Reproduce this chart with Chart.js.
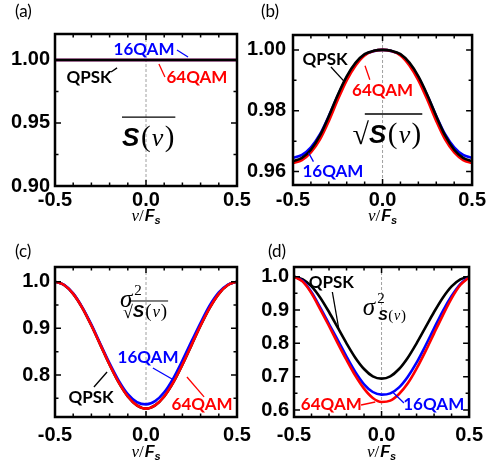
<!DOCTYPE html>
<html>
<head>
<meta charset="utf-8">
<script src="https://cdn.jsdelivr.net/npm/chart.js@4.4.1/dist/chart.umd.min.js"></script>
<style>
    body { margin: 0; background: #fff; }
    #wrap { position: relative; width: 489px; height: 475px; }
    #wrap canvas { position: absolute; left: 0; top: 0; }
</style>
</head>
<body>
<div id="wrap">
    <canvas id="panelA" width="489" height="475"></canvas>
    <canvas id="panelB" width="489" height="475"></canvas>
    <canvas id="panelC" width="489" height="475"></canvas>
    <canvas id="panelD" width="489" height="475"></canvas>
</div>
<script>
// normalized frequency nu/Fs
const xs = [-0.5, -0.45, -0.4, -0.35, -0.3, -0.25, -0.2, -0.15, -0.1, -0.05, 0,
            0.05, 0.1, 0.15, 0.2, 0.25, 0.3, 0.35, 0.4, 0.45, 0.5];
const xMajor = [-0.5, 0, 0.5];
const xMinor = [-0.4, -0.3, -0.2, -0.1, 0.1, 0.2, 0.3, 0.4];

// (a) mean of S(nu)
const qpskA  = [1.000, 1.000, 1.000, 1.000, 1.000, 1.000, 1.000, 1.000, 1.000, 1.000, 1.000,
                1.000, 1.000, 1.000, 1.000, 1.000, 1.000, 1.000, 1.000, 1.000, 1.000];
const qam16A = [1.000, 1.000, 1.000, 1.000, 1.000, 1.000, 1.000, 1.000, 1.000, 1.000, 1.000,
                1.000, 1.000, 1.000, 1.000, 1.000, 1.000, 1.000, 1.000, 1.000, 1.000];
const qam64A = [1.000, 1.000, 1.000, 1.000, 1.000, 1.000, 1.000, 1.000, 1.000, 1.000, 1.000,
                1.000, 1.000, 1.000, 1.000, 1.000, 1.000, 1.000, 1.000, 1.000, 1.000];
const yMajorA = [0.90, 0.95, 1.00];
const yMinorA = [0.925, 0.975];

// (b) mean of sqrt(S(nu))
const qpskB  = [0.9634, 0.9645, 0.9672, 0.9718, 0.9782, 0.9852, 0.9913, 0.9958, 0.9986, 0.9997, 1.0000,
                0.9997, 0.9986, 0.9958, 0.9913, 0.9852, 0.9782, 0.9718, 0.9672, 0.9645, 0.9634];
const qam16B = [0.9645, 0.9655, 0.9680, 0.9722, 0.9783, 0.9850, 0.9910, 0.9955, 0.9984, 0.9996, 1.0000,
                0.9996, 0.9984, 0.9955, 0.9910, 0.9850, 0.9783, 0.9722, 0.9680, 0.9655, 0.9645];
const qam64B = [0.9628, 0.9638, 0.9663, 0.9705, 0.9766, 0.9836, 0.9900, 0.9949, 0.9982, 0.9996, 1.0000,
                0.9996, 0.9982, 0.9949, 0.9900, 0.9836, 0.9766, 0.9705, 0.9663, 0.9638, 0.9628];
const yMajorB = [0.96, 0.98, 1.00];
const yMinorB = [0.97, 0.99];

// (c) variance of sqrt(S(nu))
const qpskC  = [1.000, 0.993, 0.974, 0.944, 0.906, 0.864, 0.822, 0.784, 0.754, 0.735, 0.728,
                0.735, 0.754, 0.784, 0.822, 0.864, 0.906, 0.944, 0.974, 0.993, 1.000];
const qam16C = [1.000, 0.993, 0.975, 0.945, 0.908, 0.866, 0.825, 0.788, 0.759, 0.742, 0.737,
                0.744, 0.763, 0.793, 0.831, 0.872, 0.912, 0.949, 0.977, 0.994, 1.000];
const qam64C = [1.000, 0.993, 0.974, 0.944, 0.906, 0.864, 0.822, 0.784, 0.754, 0.735, 0.728,
                0.735, 0.754, 0.784, 0.822, 0.864, 0.906, 0.944, 0.974, 0.993, 1.000];
const yMajorC = [0.8, 0.9, 1.0];
const yMinorC = [0.75, 0.85, 0.95];

// (d) variance of S(nu)
const qpskD  = [1.000, 0.992, 0.971, 0.937, 0.894, 0.847, 0.800, 0.757, 0.723, 0.701, 0.694,
                0.701, 0.723, 0.757, 0.800, 0.847, 0.894, 0.937, 0.971, 0.992, 1.000];
const qam16D = [1.000, 0.987, 0.953, 0.907, 0.858, 0.810, 0.760, 0.714, 0.677, 0.654, 0.646,
                0.650, 0.668, 0.700, 0.742, 0.792, 0.845, 0.897, 0.942, 0.978, 1.000];
const qam64D = [1.000, 0.985, 0.950, 0.902, 0.852, 0.800, 0.750, 0.703, 0.664, 0.636, 0.624,
                0.628, 0.648, 0.680, 0.724, 0.775, 0.830, 0.884, 0.935, 0.975, 0.998];
const yMajorD = [0.6, 0.7, 0.8, 0.9, 1.0];
const yMinorD = [0.65, 0.75, 0.85, 0.95];

const BLACK = "#000000";
const BLUE = "#0000ff";
const RED = "#ff0000";
const W = 489, H = 475;

const SANS = '"Liberation Sans", Arial, sans-serif';
const SERIF = '"Liberation Serif", "DejaVu Serif", serif';

// draws runs of text left to right, returns end x
function drawRuns(ctx, x, base, runs) {
    runs.forEach(r => {
        ctx.font = r.font;
        ctx.fillText(r.t, x + (r.dx || 0), base + (r.dy || 0));
        x += ctx.measureText(r.t).width + (r.dx || 0) + (r.gap || 0);
    });
    return x;
}

function sOfNu(size) {
    return [
        { t: "S", font: `bold italic ${size}px ${SANS}`, gap: size * 0.06 },
        { t: "(", font: `${Math.round(size * 1.1)}px ${SERIF}`, gap: size * 0.05 },
        { t: "ν", font: `italic ${size}px ${SERIF}`, gap: size * 0.05 },
        { t: ")", font: `${Math.round(size * 1.1)}px ${SERIF}` }
    ];
}

function drawFormula(ctx, kind, x0, base) {
    ctx.save();
    ctx.fillStyle = BLACK;
    ctx.strokeStyle = BLACK;
    ctx.textAlign = "left";
    ctx.textBaseline = "alphabetic";
    ctx.lineWidth = 1.3;
    if (kind === "mean" || kind === "meanSqrt") {
        let x = x0;
        let lineStart = x0;
        if (kind === "meanSqrt") {
            ctx.font = `30px ${SERIF}`;
            ctx.fillText("√", x, base + 1);
            lineStart = x + ctx.measureText("√").width * 0.75;
            x += ctx.measureText("√").width;
        }
        const end = drawRuns(ctx, x, base, sOfNu(26));
        ctx.beginPath();
        ctx.moveTo(kind === "meanSqrt" ? lineStart : x0, base - 29);
        ctx.lineTo(end + 1, base - 29);
        ctx.stroke();
    } else {
        ctx.font = `italic 25px ${SERIF}`;
        ctx.fillText("σ", x0, base);
        const sw = ctx.measureText("σ").width;
        ctx.font = `15px ${SERIF}`;
        ctx.fillText("2", x0 + sw + 2, base - 12);
        if (kind === "varSqrt") {
            let x = x0 + 3;
            const sb = base + 10;
            ctx.font = `18px ${SERIF}`;
            ctx.fillText("√", x, sb + 1);
            const rw = ctx.measureText("√").width;
            const ls = x + rw * 0.75;
            x += rw;
            const end = drawRuns(ctx, x, sb, sOfNu(17));
            ctx.lineWidth = 1;
            ctx.beginPath();
            ctx.moveTo(ls, sb - 16);
            ctx.lineTo(end + 1, sb - 16);
            ctx.stroke();
        } else {
            drawRuns(ctx, x0 + sw + 3, base + 5, sOfNu(14));
        }
    }
    ctx.restore();
}

function drawAxisTitle(ctx, cx, base) {
    ctx.save();
    ctx.fillStyle = BLACK;
    ctx.textAlign = "left";
    ctx.textBaseline = "alphabetic";
    const runs = [
        { t: "ν", font: `italic 17px ${SERIF}`, gap: 0 },
        { t: "/", font: `17px ${SERIF}`, gap: 1 },
        { t: "F", font: `bold italic 16px ${SANS}`, gap: 0 },
        { t: "s", font: `bold italic 11px ${SANS}`, dy: 3 }
    ];
    let total = 0;
    runs.forEach(r => { ctx.font = r.font; total += ctx.measureText(r.t).width + (r.gap || 0); });
    drawRuns(ctx, cx - total / 2, base, runs);
    ctx.restore();
}

const framePlugin = {
    id: "frame",
    beforeDatasetsDraw(chart) {
        const { ctx, chartArea: a, scales: { x } } = chart;
        const px = x.getPixelForValue(0);
        ctx.save();
        ctx.strokeStyle = "#a0a0a0";
        ctx.lineWidth = 1;
        ctx.setLineDash([3, 2]);
        ctx.beginPath();
        ctx.moveTo(px, a.top);
        ctx.lineTo(px, a.bottom);
        ctx.stroke();
        ctx.restore();
    },
    afterDatasetsDraw(chart, args, o) {
        const { ctx, chartArea: a, scales: { x, y } } = chart;
        ctx.save();
        ctx.strokeStyle = BLACK;
        ctx.lineWidth = 1.5;
        ctx.beginPath();
        const xTicks = (vals, len) => vals.forEach(v => {
            const p = x.getPixelForValue(v);
            ctx.moveTo(p, a.bottom); ctx.lineTo(p, a.bottom - len);
            ctx.moveTo(p, a.top); ctx.lineTo(p, a.top + len);
        });
        const yTicks = (vals, len) => vals.forEach(v => {
            const p = y.getPixelForValue(v);
            ctx.moveTo(a.left, p); ctx.lineTo(a.left + len, p);
            ctx.moveTo(a.right, p); ctx.lineTo(a.right - len, p);
        });
        xTicks(xMajor, 6);
        xTicks(xMinor, 3.5);
        yTicks(o.yMajor, 6);
        yTicks(o.yMinor, 3.5);
        ctx.stroke();
        ctx.lineWidth = 2.5;
        ctx.strokeRect(a.left, a.top, a.right - a.left, a.bottom - a.top);
        ctx.restore();
    },
    afterDraw(chart, args, o) {
        const { ctx, chartArea: a, scales: { x, y } } = chart;
        ctx.save();
        // panel letter
        ctx.fillStyle = BLACK;
        ctx.font = '17px Lato, "Open Sans", sans-serif';
        ctx.textAlign = "left";
        ctx.textBaseline = "top";
        ctx.fillText(o.letter, o.letterPos[0], o.letterPos[1]);
        // curve labels with leader lines
        o.notes.forEach(n => {
            ctx.fillStyle = n.color;
            ctx.strokeStyle = n.color;
            ctx.font = 'bold 17px Lato, "Open Sans", sans-serif';
            ctx.textAlign = "center";
            ctx.textBaseline = "middle";
            ctx.fillText(n.text, x.getPixelForValue(n.at[0]), y.getPixelForValue(n.at[1]));
            ctx.lineWidth = 1.3;
            ctx.beginPath();
            ctx.moveTo(x.getPixelForValue(n.lead[0]), y.getPixelForValue(n.lead[1]));
            ctx.lineTo(x.getPixelForValue(n.lead[2]), y.getPixelForValue(n.lead[3]));
            ctx.stroke();
        });
        ctx.restore();
        drawFormula(ctx, o.formula.kind, x.getPixelForValue(o.formula.at[0]), y.getPixelForValue(o.formula.at[1]));
        drawAxisTitle(ctx, x.getPixelForValue(0), a.bottom + o.titleGap);
    }
};

function makePanel(id, p) {
    const series = [
        { label: "QPSK", values: p.qpsk, color: BLACK, order: p.order[0] },
        { label: "16QAM", values: p.qam16, color: BLUE, order: p.order[1] },
        { label: "64QAM", values: p.qam64, color: RED, order: p.order[2] }
    ];
    const decimals = p.decimals;
    return new Chart(document.getElementById(id), {
        type: "line",
        data: {
            datasets: series.map(s => ({
                label: s.label,
                data: xs.map((v, i) => ({ x: v, y: s.values[i] })),
                borderColor: s.color,
                backgroundColor: "transparent",
                borderWidth: 2.6,
                pointRadius: 0,
                cubicInterpolationMode: "monotone",
                order: s.order
            }))
        },
        options: {
            responsive: false,
            animation: false,
            events: [],
            layout: { padding: { left: 0, top: p.box.top, right: W - p.box.right, bottom: 0 } },
            plugins: {
                legend: { display: false },
                tooltip: { enabled: false },
                frame: {
                    yMajor: p.yMajor,
                    yMinor: p.yMinor,
                    letter: p.letter,
                    letterPos: p.letterPos,
                    notes: p.notes,
                    formula: p.formula,
                    titleGap: p.titleGap
                }
            },
            scales: {
                x: {
                    type: "linear",
                    min: -0.5,
                    max: 0.5,
                    grid: { display: false, drawTicks: false },
                    border: { display: false },
                    afterFit: s => { s.height = H - p.box.bottom; },
                    afterBuildTicks: s => { s.ticks = xMajor.map(v => ({ value: v })); },
                    ticks: {
                        color: BLACK,
                        padding: p.xPad,
                        maxRotation: 0,
                        font: { family: SANS, weight: "bold", size: 20 },
                        callback: v => v.toFixed(1)
                    }
                },
                y: {
                    min: p.yMin,
                    max: p.yMax,
                    grid: { display: false, drawTicks: false },
                    border: { display: false },
                    afterFit: s => { s.width = p.box.left; },
                    afterBuildTicks: s => { s.ticks = p.yMajor.map(v => ({ value: v })); },
                    ticks: {
                        color: BLACK,
                        padding: p.yPad,
                        font: { family: SANS, weight: "bold", size: 20 },
                        callback: v => v.toFixed(decimals)
                    }
                }
            }
        },
        plugins: [framePlugin]
    });
}

makePanel("panelA", {
    qpsk: qpskA, qam16: qam16A, qam64: qam64A, order: [0, 2, 1],
    box: { left: 55, top: 34, right: 237, bottom: 186 },
    yMin: 0.90, yMax: 1.0206, yMajor: yMajorA, yMinor: yMinorA, decimals: 2,
    xPad: 2, yPad: 5, titleGap: 35,
    letter: "(a)", letterPos: [15, 3],
    formula: { kind: "mean", at: [-0.132, 0.9317] },
    notes: [
        { text: "16QAM", color: BLUE, at: [-0.011, 1.0079], lead: [0.170, 1.0079, 0.231, 1.0024] },
        { text: "QPSK", color: BLACK, at: [-0.313, 0.9857], lead: [-0.192, 0.9905, -0.159, 0.9937] },
        { text: "64QAM", color: RED, at: [0.280, 0.9857], lead: [0.071, 0.9968, 0.104, 0.9865] }
    ]
});

makePanel("panelB", {
    qpsk: qpskB, qam16: qam16B, qam64: qam64B, order: [0, 2, 1],
    box: { left: 293, top: 35, right: 477, bottom: 185 },
    yMin: 0.9556, yMax: 1.0049, yMajor: yMajorB, yMinor: yMinorB, decimals: 2,
    xPad: 3, yPad: 7, titleGap: 36,
    letter: "(b)", letterPos: [261, 3],
    formula: { kind: "meanSqrt", at: [-0.168, 0.9694] },
    notes: [
        { text: "QPSK", color: BLACK, at: [-0.321, 0.9967], lead: [-0.288, 0.9944, -0.212, 0.9895] },
        { text: "64QAM", color: RED, at: [0.0, 0.9867], lead: [-0.098, 0.9948, -0.071, 0.9902] },
        { text: "16QAM", color: BLUE, at: [-0.277, 0.9600], lead: [-0.413, 0.9662, -0.386, 0.9633] }
    ]
});

makePanel("panelC", {
    qpsk: qpskC, qam16: qam16C, qam64: qam64C, order: [2, 1, 0],
    box: { left: 55, top: 267, right: 237, bottom: 417 },
    yMin: 0.710, yMax: 1.0315, yMajor: yMajorC, yMinor: yMinorC, decimals: 1,
    xPad: 6, yPad: 5, titleGap: 40,
    letter: "(c)", letterPos: [15, 243],
    formula: { kind: "varSqrt", at: [-0.143, 0.9458] },
    notes: [
        { text: "16QAM", color: BLUE, at: [0.011, 0.8365], lead: [0.038, 0.8151, 0.143, 0.7915] },
        { text: "QPSK", color: BLACK, at: [-0.302, 0.7508], lead: [-0.286, 0.7744, -0.214, 0.8065] },
        { text: "64QAM", color: RED, at: [0.308, 0.7358], lead: [0.225, 0.7958, 0.319, 0.7530] }
    ]
});

makePanel("panelD", {
    qpsk: qpskD, qam16: qam16D, qam64: qam64D, order: [2, 1, 0],
    box: { left: 294, top: 267, right: 477, bottom: 417 },
    yMin: 0.579, yMax: 1.029, yMajor: yMajorD, yMinor: yMinorD, decimals: 1,
    xPad: 6, yPad: 5, titleGap: 40,
    letter: "(d)", letterPos: [268, 243],
    formula: { kind: "var", at: [-0.107, 0.885] },
    notes: [
        { text: "QPSK", color: BLACK, at: [-0.287, 0.981], lead: [-0.281, 0.954, -0.243, 0.840] },
        { text: "64QAM", color: RED, at: [-0.287, 0.615], lead: [-0.117, 0.615, -0.036, 0.624] },
        { text: "16QAM", color: BLUE, at: [0.298, 0.615], lead: [0.128, 0.621, 0.063, 0.654] }
    ]
});
</script>
</body>
</html>
